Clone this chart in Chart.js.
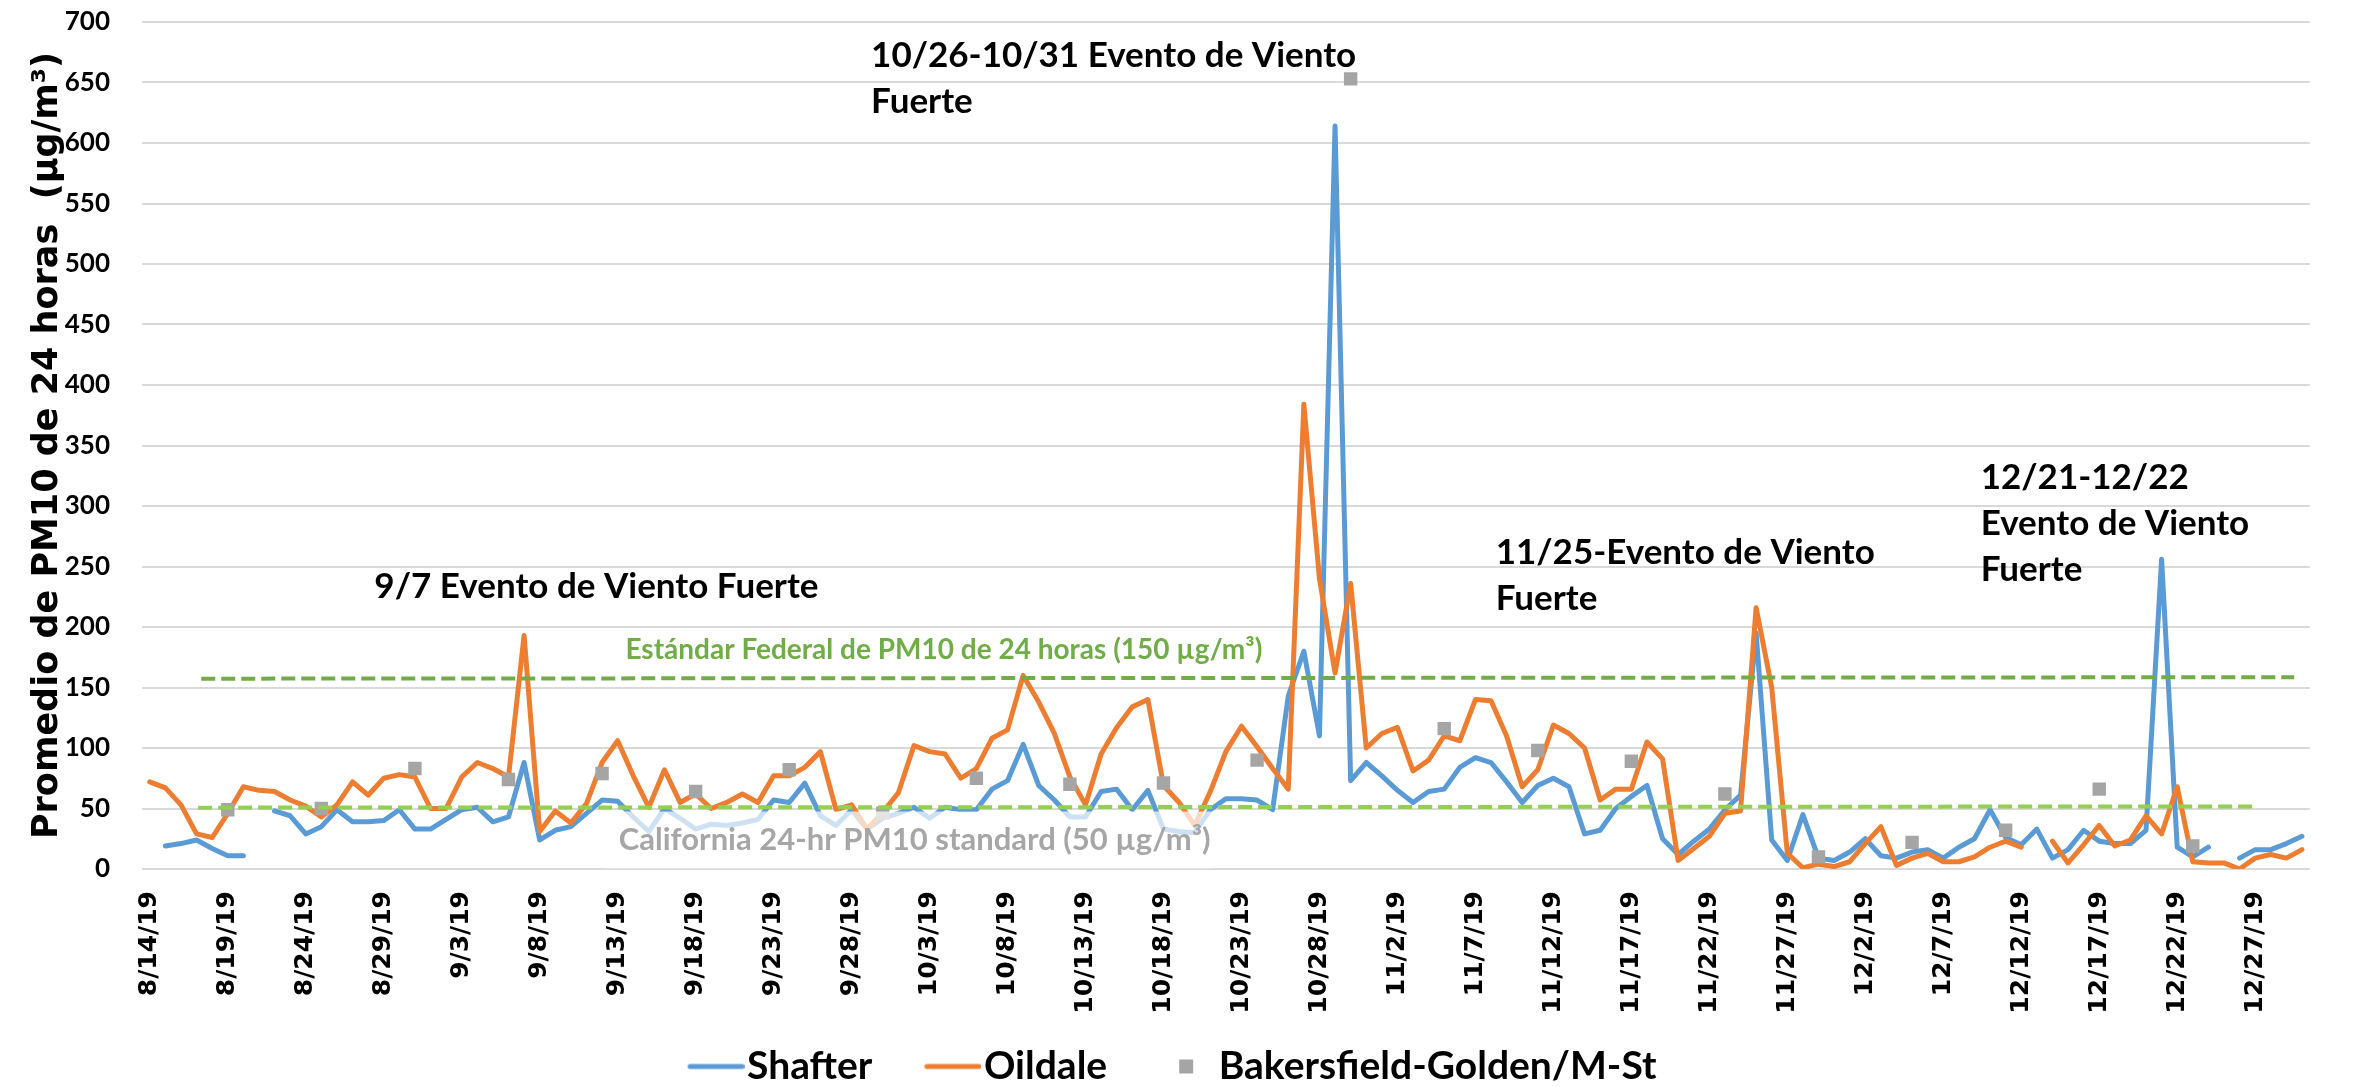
<!DOCTYPE html>
<html>
<head>
<meta charset="utf-8">
<script src="https://cdn.jsdelivr.net/npm/chart.js@4.4.0/dist/chart.umd.min.js"></script>
<style>
    html, body { margin: 0; padding: 0; background: #fff; }
    #wrap { width: 2354px; height: 1087px; }
</style>
</head>
<body>
<div id="wrap"><canvas id="pm10" width="2354" height="1087"></canvas></div>
<script>
// ===========================================================================
// Data
// daily categories 8/14/19 .. 12/30/19  [month, first day, last day]
const monthSpans = [[8, 14, 31], [9, 1, 30], [10, 1, 31], [11, 1, 30], [12, 1, 30]];
const days = [];
monthSpans.forEach(([m, from, to]) => {
    for (let d = from; d <= to; d++) days.push(m + "/" + d + "/19");
});

// 24-hr PM10 average (µg/m³), one value per day, null = no sample
const shafter = [
    null, 19, 21, 24, 17, 11, 11, null, 48, 44,
    29, 35, 49, 39, 39, 40, 49, 33, 33, 41,
    49, 51, 39, 43, 88, 24, 32, 35, 46, 57,
    56, 43, 31, 50, 42, 33, 37, 36, 38, 41,
    57, 55, 71, 44, 36, 49, 33, 42, 46, 51,
    42, 51, 49, 49, 66, 73, 103, 69, 57, 43,
    43, 64, 66, 49, 65, 33, 31, 30, 49, 58,
    58, 57, 49, 143, 180, 110, 614, 73, 88, 77,
    65, 55, 64, 66, 84, 92, 88, 72, 55, 69,
    75, 68, 29, 32, 50, 60, 69, 25, 12, 23,
    33, 49, 61, 195, 24, 7, 45, 9, 7, 14,
    25, 11, 9, 14, 16, 9, 18, 25, 49, 26,
    20, 33, 9, 16, 32, 23, 21, 21, 32, 256,
    18, 10, 18, null, 9, 16, 16, 21, 27
];

const oildale = [
    72, 67, 53, 29, 26, 46, 68, 65, 64, 57,
    52, 43, 53, 72, 61, 75, 78, 76, 50, 50,
    76, 88, 83, 76, 193, 31, 48, 38, 54, 88,
    106, 77, 51, 82, 55, 62, 50, 55, 62, 55,
    77, 77, 84, 97, 49, 53, 33, 47, 63, 102,
    97, 95, 75, 83, 108, 115, 160, 138, 112, 76,
    53, 95, 117, 134, 140, 69, 55, 36, 64, 97,
    118, 101, 83, 66, 384, 240, 162, 236, 100, 112,
    117, 81, 90, 110, 106, 140, 139, 110, 68, 82,
    119, 112, 100, 57, 66, 66, 105, 91, 7, 17,
    27, 46, 48, 216, 150, 13, 1, 4, 2, 6,
    21, 35, 3, 9, 13, 6, 6, 10, 18, 23,
    18, null, 23, 5, 20, 36, 19, 24, 44, 29,
    68, 6, 5, 5, 0, 9, 12, 9, 16
];

// Bakersfield is sampled every 6th day
const bakersDates = [
    "8/19/19", "8/25/19", "8/31/19", "9/6/19", "9/12/19", "9/18/19", "9/24/19", "9/30/19",
    "10/6/19", "10/12/19", "10/18/19", "10/24/19", "10/30/19", "11/5/19", "11/11/19",
    "11/17/19", "11/23/19", "11/29/19", "12/5/19", "12/11/19", "12/17/19", "12/23/19"
];
const bakersValues = [49, 50, 83, 74, 79, 64, 82, 46, 75, 70, 71, 90, 653, 116, 98, 89, 62, 10, 22, 32, 66, 19];

const yTicks = { min: 0, max: 700, step: 50 };

// ===========================================================================
// Annotations, anchored in data units [category index, value]
const standards = [
    { from: [3.3, 157.3], to: [137.5, 158.5], color: "#70AD47" },
    { from: [3.1, 50.7], to: [135.1, 51.7], color: "#92D050" }
];

const notes = [
    { lines: ["10/26-10/31 Evento de Viento", "Fuerte"], at: [46.25, 672.5] },
    { lines: ["9/7 Evento de Viento Fuerte"], at: [14.4, 233] },
    { lines: ["11/25-Evento de Viento", "Fuerte"], at: [86.3, 261] },
    { lines: ["12/21-12/22", "Evento de Viento", "Fuerte"], at: [117.4, 323] }
];

const colorShafter = "#5B9BD5";
const colorOildale = "#ED7D31";
const colorBakers = "#A5A5A5";

// ===========================================================================
const overlay = {
    id: "overlay",
    afterLayout(chart) {
        // legend row sits a little left of centre in the original
        chart.legend.left -= 12;
        chart.legend.right -= 12;
    },
    afterDatasetsDraw(chart) {
        const { ctx } = chart;
        const x = chart.scales.x, y = chart.scales.y;
        ctx.save();

        // semi transparent box of the California label
        const bx0 = x.getPixelForValue(29.2), bx1 = x.getPixelForValue(68.2);
        const by0 = y.getPixelForValue(47.5), by1 = y.getPixelForValue(0.5);
        ctx.fillStyle = "rgba(255,255,255,0.7)";
        ctx.fillRect(bx0, by0, bx1 - bx0, by1 - by0);

        // standards
        ctx.lineWidth = 4;
        ctx.setLineDash([14, 6]);
        standards.forEach(s => {
            ctx.strokeStyle = s.color;
            ctx.beginPath();
            ctx.moveTo(x.getPixelForValue(s.from[0]), y.getPixelForValue(s.from[1]));
            ctx.lineTo(x.getPixelForValue(s.to[0]), y.getPixelForValue(s.to[1]));
            ctx.stroke();
        });
        ctx.setLineDash([]);

        ctx.textAlign = "left";
        ctx.textBaseline = "middle";

        ctx.font = "bold 28px Lato";
        ctx.fillStyle = "#70AD47";
        ctx.fillText("Estándar Federal de PM10 de 24 horas (150 µg/m³)", x.getPixelForValue(30.5), y.getPixelForValue(181));

        ctx.font = "bold 31px Lato";
        ctx.fillStyle = "#A6A6A6";
        ctx.fillText("California 24-hr PM10 standard (50 µg/m³)", x.getPixelForValue(30.07), y.getPixelForValue(24));

        ctx.font = "bold 35px Lato";
        ctx.fillStyle = "#000";
        notes.forEach(n => {
            const px = x.getPixelForValue(n.at[0]);
            const py = y.getPixelForValue(n.at[1]);
            n.lines.forEach((t, i) => ctx.fillText(t, px, py + i * 46));
        });

        ctx.restore();
    }
};

// legend markers: short line for the series, small square for Bakersfield
const legendMarker = (kind, color) => {
    const c = document.createElement("canvas");
    c.width = 100;
    c.height = 16;
    const g = c.getContext("2d");
    if (kind === "line") {
        g.strokeStyle = color;
        g.lineWidth = 5;
        g.lineCap = "round";
        g.beginPath();
        g.moveTo(45.5, 8);
        g.lineTo(97.5, 8);
        g.stroke();
    } else {
        g.fillStyle = color;
        g.fillRect(63, 1, 14, 14);
    }
    return c;
};

const lineStyle = (color) => ({
    borderColor: color,
    backgroundColor: color,
    borderWidth: 5,
    pointRadius: 0,
    pointHoverRadius: 0,
    tension: 0,
    spanGaps: false,
    borderJoinStyle: "round",
    borderCapStyle: "round"
});

new Chart(document.getElementById("pm10"), {
    type: "line",
    data: {
        labels: days,
        datasets: [
            { label: "Shafter", data: shafter, order: 3, ...lineStyle(colorShafter) },
            { label: "Oildale", data: oildale, order: 2, ...lineStyle(colorOildale) },
            {
                label: "Bakersfield-Golden/M-St",
                data: bakersDates.map((d, i) => ({ x: d, y: bakersValues[i] })),
                order: 1,
                showLine: false,
                pointStyle: "rect",
                pointRadius: 9.5,
                pointBorderWidth: 0,
                backgroundColor: colorBakers,
                borderColor: colorBakers
            }
        ]
    },
    options: {
        responsive: false,
        animation: false,
        devicePixelRatio: 1,
        layout: { padding: { top: 22, right: 12, bottom: -9, left: 0 } },
        plugins: {
            tooltip: { enabled: false },
            legend: {
                position: "bottom",
                labels: {
                    font: { family: "Lato", weight: "bold", size: 39 },
                    color: "#000",
                    usePointStyle: true,
                    pointStyleWidth: 66,
                    padding: 26,
                    generateLabels: () => [
                        { text: "Shafter", pointStyle: legendMarker("line", colorShafter), fillStyle: colorShafter, strokeStyle: colorShafter, lineWidth: 0, datasetIndex: 0 },
                        { text: "Oildale", pointStyle: legendMarker("line", colorOildale), fillStyle: colorOildale, strokeStyle: colorOildale, lineWidth: 0, datasetIndex: 1 },
                        { text: "Bakersfield-Golden/M-St", pointStyle: legendMarker("rect", colorBakers), fillStyle: colorBakers, strokeStyle: colorBakers, lineWidth: 0, datasetIndex: 2 }
                    ]
                }
            }
        },
        scales: {
            x: {
                type: "category",
                offset: true,
                grid: { display: false, drawTicks: false },
                border: { display: false },
                ticks: {
                    autoSkip: false,
                    minRotation: 90,
                    maxRotation: 90,
                    padding: 22,
                    color: "#000",
                    font: { family: "DejaVu Sans", weight: "bold", size: 25 },
                    callback: (v, i) => (i % 5 === 0 ? days[i] : "")
                },
                afterFit: (s) => { s.height = 152; }
            },
            y: {
                min: yTicks.min,
                max: yTicks.max,
                grid: { color: "#D9D9D9", lineWidth: 2, drawTicks: false },
                border: { display: false },
                ticks: {
                    stepSize: yTicks.step,
                    padding: 32,
                    color: "#000",
                    font: { family: "Lato", weight: "bold", size: 26 }
                },
                title: {
                    display: true,
                    text: "Promedio de PM10 de 24 horas  (µg/m³)",
                    color: "#000",
                    font: { family: "DejaVu Sans", weight: "bold", size: 35 },
                    padding: { top: 27, bottom: 0 }
                },
                afterFit: (s) => {
                    s.width = 142;
                    // keep the tick padding from pushing the plot area down
                    s.paddingTop = 0;
                    s.paddingBottom = 0;
                }
            }
        }
    },
    plugins: [overlay]
});
</script>
</body>
</html>
